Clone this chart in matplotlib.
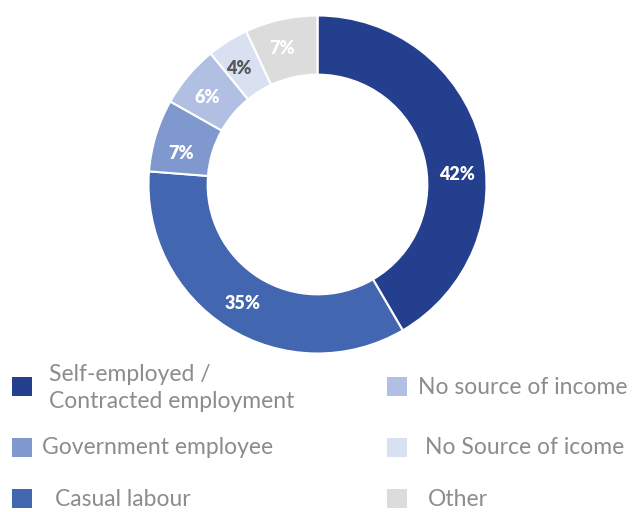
import matplotlib
matplotlib.use("Agg")
import matplotlib.pyplot as plt
from matplotlib.patches import Rectangle
import numpy as np

# Data
categories = ["Self-employed /\nContracted employment", "Casual labour", "Government employee",
              "No source of income", "No Source of icome", "Other"]
values = [42, 35, 7, 6, 4, 7]
colors = ["#253F8F", "#4266AF", "#7F98CE", "#B1C0E2", "#D9E0F1", "#DCDCDC"]
label_colors = ["white", "white", "white", "white", "#595959", "white"]

legend_order = [0, 2, 1, 3, 4, 5]  # left column: 0,2,1 ; right column: 3,4,5

W, H = 633, 512
fig = plt.figure(figsize=(W / 100, H / 100), dpi=100)
ax = fig.add_axes([0, 0, 1, 1])

cx, cy, R = 317.5, 184.5, 169
ring = 0.35

wedges, _ = ax.pie(values, colors=colors, startangle=-90, counterclock=True,
                   radius=R, center=(cx, cy), frame=True,
                   wedgeprops=dict(width=R * ring, edgecolor="white", linewidth=1.5))
ax.set_xlim(0, W)
ax.set_ylim(H, 0)
ax.set_aspect("equal")
ax.axis("off")

# Labels
total = sum(values)
start = 0.0
label_offsets = [11, 0, -4, -2, -2, -2]
for i, v in enumerate(values):
    frac = v / total
    mid = (start + frac / 2) * 360.0 + label_offsets[i]
    start += frac
    a = np.deg2rad(mid)
    r = R * 0.83
    x = cx + r * np.sin(a)
    y = cy - r * np.cos(a)
    ax.text(x, y, f"{v}%", ha="center", va="center", color=label_colors[i],
            fontsize=13, fontweight="heavy", family=["Lato", "DejaVu Sans"])

# Legend
col_x = [12, 387]
row_y = [377, 438, 489]
text_off = [[37, 30, 43], [31, 38, 41]]
for k, idx in enumerate(legend_order):
    col = k // 3
    row = k % 3
    x0 = col_x[col]
    y0 = row_y[row]
    ax.add_patch(Rectangle((x0, y0), 20, 19, facecolor=colors[idx], edgecolor="none"))
    tx = x0 + text_off[col][row]
    ax.text(tx, y0 + 10 + (1 if idx == 0 else 0), categories[idx], ha="left", va="center",
            color="#8C8C8C", fontsize=16.5, fontweight="normal",
            family=["Lato", "DejaVu Sans"], linespacing=1.4)

fig.savefig("out.png", dpi=100)
